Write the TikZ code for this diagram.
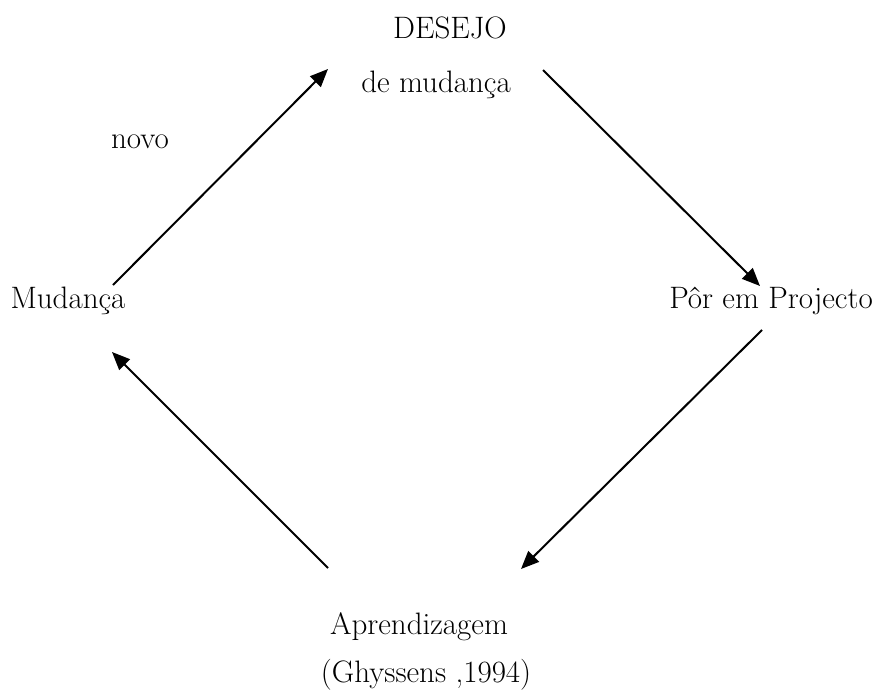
\documentclass[tikz,border=0pt]{standalone}
\usetikzlibrary{arrows.meta}
\begin{document}
\begin{tikzpicture}[x=1pt,y=-1pt,
  lbl/.style={anchor=base,inner sep=0pt,font=\fontsize{31}{36}\selectfont},
  arr/.style={line width=2pt,-{Triangle[length=18pt,width=15pt]}}]
\useasboundingbox (0,0) rectangle (874,693);
\node[lbl] (desejo) at (450,39) {DESEJO};
\node[lbl] (demud) at (436,92) {de mudança};
\node[lbl] (novo) at (140,148) {novo};
\node[lbl] (mud) at (68,308) {Mudança};
\node[lbl] (por) at (771,308) {Pôr em Projecto};
\node[lbl] (apr) at (419,634) {Aprendizagem};
\node[lbl] (ghy) at (426,682) {(Ghyssens ,1994)};
\coordinate (a1s) at (113,285); \coordinate (a1e) at (328,69);
\coordinate (a2s) at (543,70);  \coordinate (a2e) at (760,286);
\coordinate (a3s) at (762,330); \coordinate (a3e) at (521,569);
\coordinate (a4s) at (328,568); \coordinate (a4e) at (112,352);
\draw[arr] (a1s) -- (a1e);
\draw[arr] (a2s) -- (a2e);
\draw[arr] (a3s) -- (a3e);
\draw[arr] (a4s) -- (a4e);
\end{tikzpicture}
\end{document}
